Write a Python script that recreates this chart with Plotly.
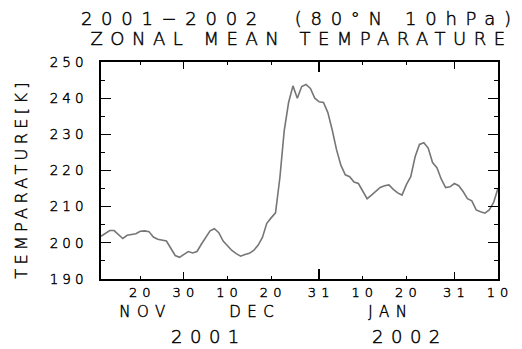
import pandas as pd
import plotly.graph_objects as go

# Daily zonal mean temperature at 80N, 10 hPa (K), starting 2001-11-11
start_date = "2001-11-11"
temperature_k = [
    201.8, 202.6, 203.4, 203.4, 202.2, 201.2, 202.1, 202.3, 202.5, 203.2,
    203.3, 203.1, 201.6, 201.0, 200.8, 200.5, 198.5, 196.5, 196.0, 196.9,
    197.6, 197.2, 197.6, 199.6, 201.6, 203.3, 203.9, 202.8, 200.5, 199.2,
    197.9, 197.0, 196.3, 196.8, 197.1, 197.9, 199.3, 201.5, 205.4, 206.9,
    208.3, 218.0, 231.0, 238.8, 243.4, 240.0, 243.2, 243.8, 242.7, 240.0,
    239.0, 238.8, 236.0, 231.2, 225.7, 221.4, 218.8, 218.3, 216.8, 216.4,
    214.3, 212.2, 213.2, 214.3, 215.3, 215.8, 216.0, 214.8, 213.8, 213.2,
    216.1, 218.3, 223.8, 227.2, 227.7, 226.2, 222.2, 220.8, 217.6, 215.3,
    215.5, 216.4, 215.8, 214.2, 212.2, 211.6, 209.1, 208.6, 208.2, 209.1,
    211.2, 215.1,
]
dates = pd.date_range(start_date, periods=len(temperature_k), freq="D")

x_range = ["2001-11-11", "2002-02-10"]
day_ticks = ["2001-11-20", "2001-11-30", "2001-12-10", "2001-12-20", "2001-12-31",
             "2002-01-10", "2002-01-20", "2002-01-31", "2002-02-10"]
day_labels = ["20", "30", "10", "20", "31", "10", "20", "31", "10"]
month_end_ticks = ["2001-11-30", "2002-01-31"]
year_end_ticks = ["2001-12-31"]

months = ["NOV", "DEC", "JAN"]
month_pos = ["2001-11-20 10:00", "2001-12-15 14:00", "2002-01-15 19:00"]
years = ["2001", "2002"]
year_pos = ["2001-12-04 20:00", "2002-01-19 22:00"]

y_range = [190, 250]
y_ticks = [190, 200, 210, 220, 230, 240, 250]

FONT = "DejaVu Sans"
W = 200  # light strokes

fig = go.Figure()
fig.add_trace(go.Scatter(x=dates, y=temperature_k, mode="lines",
                         line=dict(color="#767676", width=1.6),
                         showlegend=False, hoverinfo="skip"))
# empty traces so the extra tick axes get drawn
fig.add_trace(go.Scatter(x=[], y=[], xaxis="x2", showlegend=False))
fig.add_trace(go.Scatter(x=[], y=[], xaxis="x3", showlegend=False))

common_x = dict(range=x_range, type="date", showgrid=False, zeroline=False,
                ticks="inside", tickcolor="black", mirror="ticks")

fig.update_layout(
    width=522, height=349,
    margin=dict(l=101, r=24, t=62, b=70),
    paper_bgcolor="white", plot_bgcolor="white",
    font=dict(family=FONT, color="black", weight=W),
    xaxis=dict(**common_x, tickmode="array", tickvals=day_ticks, ticktext=day_labels,
               ticklen=3, tickwidth=1.2, showline=True, linecolor="black",
               linewidth=1.5, tickfont=dict(size=13, family=FONT, weight=W),
               ticklabelstandoff=1, ticklabelshift=2),
    xaxis2=dict(**common_x, overlaying="x", anchor="y", tickmode="array",
                tickvals=month_end_ticks, ticklen=7, tickwidth=1.4,
                showticklabels=False, showline=False),
    xaxis3=dict(**common_x, overlaying="x", anchor="y", tickmode="array",
                tickvals=year_end_ticks, ticklen=10, tickwidth=1.6,
                showticklabels=False, showline=False),
    yaxis=dict(range=y_range, tickmode="array", tickvals=y_ticks,
               ticks="inside", ticklen=10, tickwidth=1.3, tickcolor="black",
               mirror="ticks", showline=True, linecolor="black", linewidth=1.5,
               showgrid=False, zeroline=False,
               minor=dict(dtick=5, tick0=190, ticks="inside", ticklen=4,
                          tickwidth=1.1, tickcolor="black"),
               tickfont=dict(size=13.5, family=FONT, weight=W), ticklabelstandoff=9),
)

annotations = [
    dict(text="2001\u22122002\u00a0\u00a0(80°N\u00a010hPa)", x=300, y=18.3, size=18),
    dict(text="ZONAL\u00a0MEAN\u00a0TEMPARATURE", x=301, y=38.7, size=18),
]
for a in annotations:
    fig.add_annotation(text=a["text"], xref="paper", yref="paper",
                       x=(a["x"] - 101) / 397, y=(279 - a["y"]) / 217,
                       xanchor="center", yanchor="middle", showarrow=False,
                       font=dict(size=a["size"], family=FONT, weight=W))
fig.add_annotation(text="TEMPARATURE[K]", textangle=-90, xref="paper", yref="paper",
                   x=(21 - 101) / 397, y=(279 - 179) / 217, xanchor="center",
                   yanchor="middle", showarrow=False,
                   font=dict(size=16, family=FONT, weight=W))
for m, p in zip(months, month_pos):
    fig.add_annotation(text=m, x=p, xref="x", yref="paper", y=(279 - 312) / 217,
                       xshift=3, xanchor="center", yanchor="middle", showarrow=False,
                       font=dict(size=15, family=FONT, weight=W))
for yr, p in zip(years, year_pos):
    fig.add_annotation(text=yr, x=p, xref="x", yref="paper", y=(279 - 336) / 217,
                       xshift=4, xanchor="center", yanchor="middle", showarrow=False,
                       font=dict(size=18, family=FONT, weight=W))

# wide letter spacing and a thin outline to darken the light glyphs
spacing_css = (
    ".xtick text,.ytick text,.annotation text{stroke:#000;stroke-width:0.45px}"
    ".xtick text{letter-spacing:5px}"
    ".ytick text{letter-spacing:4px}"
    ".annotation[data-index='0'] text{letter-spacing:8.7px}"
    ".annotation[data-index='1'] text{letter-spacing:7.5px}"
    ".annotation[data-index='2'] text{letter-spacing:4.4px}"
    ".annotation[data-index='3'] text,.annotation[data-index='4'] text,"
    ".annotation[data-index='5'] text{letter-spacing:6.5px}"
    ".annotation[data-index='6'] text,.annotation[data-index='7'] text{letter-spacing:7.5px}"
)
post = ("var s=document.createElement('style');s.textContent=\"" + spacing_css +
        "\";document.head.appendChild(s);")

fig.write_html("out.html", post_script=post)
